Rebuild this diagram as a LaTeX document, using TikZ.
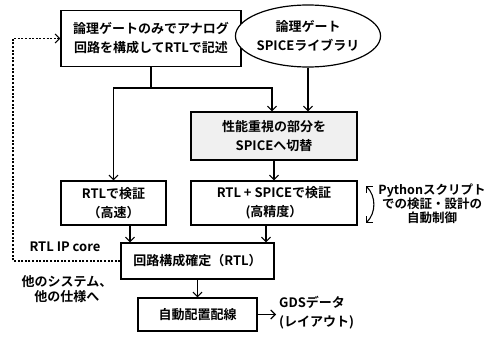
\documentclass[tikz,border=0pt]{standalone}
\usepackage{fontspec}
\setmainfont{Noto Sans CJK JP}[BoldFont={Noto Sans CJK JP Bold}]
\usetikzlibrary{arrows.meta,shapes.geometric}
\begin{document}
\begin{tikzpicture}[x=1pt,y=-1pt,
  font=\bfseries\fontsize{13}{19}\selectfont,
  box/.style={draw, line width=1.2pt, align=center, inner sep=0pt, fill=white},
  arr/.style={-{Straight Barb[length=4.5pt,width=9pt,line width=1.1pt]}, line width=1.1pt},
  ln/.style={line width=1.1pt},
  lbl/.style={align=center, inner sep=0pt}]
\useasboundingbox (0,0) rectangle (490,337);
\node[box, minimum width=180pt, minimum height=56pt] (b1) at (151,38.5) {論理ゲートのみでアナログ\\回路を構成してRTLで記述};
\node[box, ellipse, minimum width=122pt, minimum height=62pt] (ell) at (308,36) {論理ゲート\\SPICEライブラリ};
\node[box, fill=black!6, minimum width=166pt, minimum height=48pt] (gray) at (274,136) {性能重視の部分を\\SPICEへ切替};
\node[box, minimum width=105pt, minimum height=44pt] (rtl) at (113.5,203) {RTLで検証\\（高速）};
\node[box, minimum width=166pt, minimum height=44pt] (spice) at (274,203) {RTL + SPICEで検証\\(高精度）};
\node[box, minimum width=153pt, minimum height=36pt] (kak) at (197.5,261) {回路構成確定（RTL）};
\node[box, minimum width=119pt, minimum height=33pt] (jido) at (197.5,314.5) {自動配置配線};
\node[lbl, align=left, anchor=west] (gds) at (279,313) {GDSデータ\\(レイアウト)};
\node[lbl, font=\bfseries\fontsize{12.5}{14}\selectfont] (py) at (432,204) {Pythonスクリプト\\での検証・設計の\\自動制御};
\node[lbl] (ip) at (65,247) {RTL IP core};
\node[lbl, font=\bfseries\fontsize{13}{15}\selectfont] (oth) at (67,289.5) {他のシステム、\\他の仕様へ};
\coordinate (j) at (151,88);
\coordinate (dl) at (13,261);
\coordinate (gdsend) at (276,314.5);
\draw[ln] (b1.south) -- (j);
\draw[arr] (j) -| (rtl.north);
\draw[arr] (j) -| ([xshift=-2pt]gray.north);
\draw[arr] (ell.south) -- (ell.south |- gray.north);
\draw[arr] (gray.south) -- (spice.north);
\draw[arr] ([xshift=16.5pt]rtl.south) -- ([xshift=16.5pt]rtl.south |- kak.north);
\draw[arr] ([xshift=-8pt]spice.south) -- ([xshift=-8pt]spice.south |- kak.north);
\draw[arr] (kak.south) -- (jido.north);
\draw[arr] (jido.east) -- (gdsend);
\draw[arr, dash pattern=on 2pt off 1.6pt] (kak.west) -- (dl) |- (b1.west);
\coordinate (ca) at (366,186);
\coordinate (cb) at (366,223);
\draw[{Straight Barb[length=4.5pt,width=9pt,line width=1.1pt]}-{Straight Barb[length=4.5pt,width=9pt,line width=1.1pt]}, line width=1.1pt] (ca) to[bend left=45] (cb);
\end{tikzpicture}
\end{document}
